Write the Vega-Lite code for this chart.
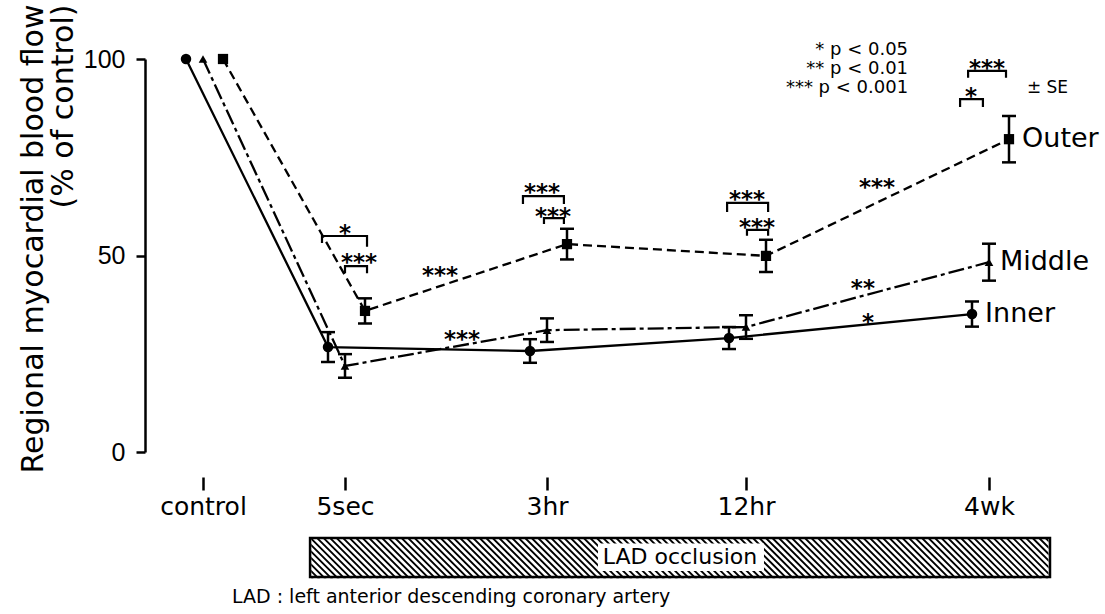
{
  "$schema": "https://vega.github.io/schema/vega-lite/v6.json",
  "width": 900,
  "height": 393,
  "autosize": {"type": "none"},
  "padding": {"left": 145, "top": 59, "right": 60, "bottom": 162},
  "background": "white",
  "config": {"view": {"stroke": null}, "font": "DejaVu Sans"},
  "datasets": {
    "pts": [
      {"s": "Inner", "t": 0, "time": "control", "v": 100, "se": 0},
      {"s": "Inner", "t": 1, "time": "5sec", "v": 26.7, "se": 3.8},
      {"s": "Inner", "t": 2, "time": "3hr", "v": 25.7, "se": 3.0},
      {"s": "Inner", "t": 3, "time": "12hr", "v": 29.0, "se": 2.8},
      {"s": "Inner", "t": 4, "time": "4wk", "v": 35.1, "se": 3.2},
      {"s": "Middle", "t": 0, "time": "control", "v": 100, "se": 0},
      {"s": "Middle", "t": 1, "time": "5sec", "v": 21.9, "se": 3.0},
      {"s": "Middle", "t": 2, "time": "3hr", "v": 31.0, "se": 3.0},
      {"s": "Middle", "t": 3, "time": "12hr", "v": 31.8, "se": 3.0},
      {"s": "Middle", "t": 4, "time": "4wk", "v": 48.3, "se": 4.7},
      {"s": "Outer", "t": 0, "time": "control", "v": 100, "se": 0},
      {"s": "Outer", "t": 1, "time": "5sec", "v": 35.9, "se": 3.2},
      {"s": "Outer", "t": 2, "time": "3hr", "v": 52.9, "se": 3.9},
      {"s": "Outer", "t": 3, "time": "12hr", "v": 49.9, "se": 4.1},
      {"s": "Outer", "t": 4, "time": "4wk", "v": 79.6, "se": 5.9}
    ],
    "brackets": [
      {"b": 1, "o": 1, "t": 0.838, "v": 53.2}, {"b": 1, "o": 2, "t": 0.838, "v": 54.96}, {"b": 1, "o": 3, "t": 1.109, "v": 54.96}, {"b": 1, "o": 4, "t": 1.109, "v": 52.2},
      {"b": 2, "o": 1, "t": 1.0, "v": 45.5}, {"b": 2, "o": 2, "t": 1.0, "v": 47.3}, {"b": 2, "o": 3, "t": 1.109, "v": 47.3}, {"b": 2, "o": 4, "t": 1.109, "v": 45.5},
      {"b": 3, "o": 1, "t": 1.881, "v": 63.1}, {"b": 3, "o": 2, "t": 1.881, "v": 65.1}, {"b": 3, "o": 3, "t": 2.085, "v": 65.1}, {"b": 3, "o": 4, "t": 2.085, "v": 63.1},
      {"b": 4, "o": 1, "t": 1.985, "v": 58.0}, {"b": 4, "o": 2, "t": 1.985, "v": 59.5}, {"b": 4, "o": 3, "t": 2.085, "v": 59.5}, {"b": 4, "o": 4, "t": 2.085, "v": 58.0},
      {"b": 5, "o": 1, "t": 2.905, "v": 61.1}, {"b": 5, "o": 2, "t": 2.905, "v": 63.4}, {"b": 5, "o": 3, "t": 3.091, "v": 63.4}, {"b": 5, "o": 4, "t": 3.091, "v": 61.1},
      {"b": 6, "o": 1, "t": 3.004, "v": 55.0}, {"b": 6, "o": 2, "t": 3.004, "v": 56.5}, {"b": 6, "o": 3, "t": 3.091, "v": 56.5}, {"b": 6, "o": 4, "t": 3.091, "v": 55.0},
      {"b": 7, "o": 1, "t": 3.914, "v": 95.2}, {"b": 7, "o": 2, "t": 3.914, "v": 97.0}, {"b": 7, "o": 3, "t": 4.07, "v": 97.0}, {"b": 7, "o": 4, "t": 4.07, "v": 95.2},
      {"b": 8, "o": 1, "t": 3.881, "v": 87.8}, {"b": 8, "o": 2, "t": 3.881, "v": 89.8}, {"b": 8, "o": 3, "t": 3.975, "v": 89.8}, {"b": 8, "o": 4, "t": 3.975, "v": 87.8}
    ],
    "stars": [
      {"t": 1.0, "v": 57.0, "txt": "*"},
      {"t": 1.069, "v": 49.6, "txt": "***"},
      {"t": 1.47, "v": 46.3, "txt": "***"},
      {"t": 1.579, "v": 30.0, "txt": "***"},
      {"t": 1.975, "v": 67.4, "txt": "***"},
      {"t": 2.03, "v": 61.3, "txt": "***"},
      {"t": 3.004, "v": 65.6, "txt": "***"},
      {"t": 3.045, "v": 58.5, "txt": "***"},
      {"t": 3.992, "v": 99.0, "txt": "***"},
      {"t": 3.926, "v": 91.9, "txt": "*"},
      {"t": 3.539, "v": 68.7, "txt": "***"},
      {"t": 3.481, "v": 43.0, "txt": "**"},
      {"t": 3.502, "v": 34.4, "txt": "*"}
    ],
    "notes": [
      {"t": 3.667, "v": 102.3, "txt": "* p < 0.05"},
      {"t": 3.667, "v": 97.5, "txt": "** p < 0.01"},
      {"t": 3.667, "v": 92.6, "txt": "*** p < 0.001"}
    ],
    "se": [{"t": 4.156, "v": 92.6, "txt": "± SE"}],
    "labels": [
      {"t": 4.136, "v": 79.6, "txt": "Outer"},
      {"t": 4.045, "v": 48.3, "txt": "Middle"},
      {"t": 3.984, "v": 35.1, "txt": "Inner"}
    ],
    "hatch": [{"t": 1.272, "v": -97.96, "t2": 3.881, "v2": 44.53}],
    "masks": [
      {"t": -0.092, "t2": 4.745, "v": -21.6, "v2": 96.0},
      {"t": -0.092, "t2": 4.745, "v": -32.1, "v2": -150.0},
      {"t": -0.092, "t2": 0.762, "v": -21.0, "v2": -32.5},
      {"t": 4.245, "t2": 4.745, "v": -21.0, "v2": -32.5}
    ],
    "bar": [{"t": 0.754, "t2": 4.251, "v": -21.9, "v2": -31.8}],
    "barbox": [{"t": 2.256, "t2": 3.074, "v": -23.3, "v2": -30.3}],
    "bartext": [{"t": 2.668, "v": -26.7, "txt": "LAD occlusion"}],
    "foot": [{"t": 0.204, "v": -36.9, "txt": "LAD : left anterior descending coronary artery"}]
  },
  "encoding": {
    "x": {
      "field": "t",
      "type": "quantitative",
      "scale": {"type": "linear", "domain": [0, 1, 2, 3, 4], "range": [58, 200, 402, 601, 844], "nice": false, "zero": false},
      "axis": {
        "title": null,
        "values": [0, 1, 2, 3, 4],
        "labelExpr": "['control','5sec','3hr','12hr','4wk'][datum.value]",
        "domain": false,
        "grid": false,
        "offset": 25,
        "ticks": true,
        "tickSize": 13,
        "tickWidth": 2.5,
        "tickColor": "black",
        "labelFont": "DejaVu Sans",
        "labelFontSize": 25,
        "labelColor": "black",
        "labelPadding": 4,
        "labelFlush": false,
        "labelOverlap": false,
        "zindex": 1
      }
    },
    "y": {
      "field": "v",
      "type": "quantitative",
      "scale": {"domain": [0, 100], "nice": false, "zero": false},
      "axis": {
        "title": ["Regional myocardial blood flow", "(% of control)"],
        "titleFont": "DejaVu Sans",
        "titleFontSize": 30,
        "titleFontWeight": "normal",
        "titleColor": "black",
        "titleAngle": -90,
        "titleAlign": "right",
        "titleBaseline": "top",
        "titleLineHeight": 30,
        "titleX": -127,
        "titleY": -55,
        "values": [0, 50, 100],
        "grid": false,
        "domain": true,
        "domainColor": "black",
        "domainWidth": 2.5,
        "tickSize": 9,
        "tickWidth": 2.5,
        "tickColor": "black",
        "labelFont": "Liberation Sans",
        "labelFontSize": 25,
        "labelColor": "black",
        "labelPadding": 11,
        "zindex": 1
      }
    }
  },
  "layer": [
    {
      "data": {"name": "hatch"},
      "mark": {"type": "rule", "color": "black", "strokeWidth": 570, "strokeDash": [1.9, 2.7], "strokeCap": "butt"},
      "encoding": {"x2": {"field": "t2"}, "y2": {"field": "v2"}}
    },
    {
      "data": {"name": "masks"},
      "mark": {"type": "rect", "fill": "white", "stroke": null},
      "encoding": {"x2": {"field": "t2"}, "y2": {"field": "v2"}}
    },
    {
      "data": {"name": "bar"},
      "mark": {"type": "rect", "fill": null, "stroke": "black", "strokeWidth": 2.5},
      "encoding": {"x2": {"field": "t2"}, "y2": {"field": "v2"}}
    },
    {
      "data": {"name": "barbox"},
      "mark": {"type": "rect", "fill": "white"},
      "encoding": {"x2": {"field": "t2"}, "y2": {"field": "v2"}}
    },
    {
      "data": {"name": "bartext"},
      "mark": {"type": "text", "font": "DejaVu Sans", "fontSize": 22, "align": "center", "baseline": "middle", "color": "black"},
      "encoding": {"text": {"field": "txt"}}
    },
    {
      "data": {"name": "foot"},
      "mark": {"type": "text", "font": "DejaVu Sans", "fontSize": 19, "align": "left", "baseline": "middle", "color": "black"},
      "encoding": {"text": {"field": "txt"}}
    },
    {
      "data": {"name": "pts"},
      "transform": [{"filter": "datum.s == 'Inner'"}],
      "mark": {"type": "line", "color": "black", "strokeWidth": 2.3, "xOffset": -17},
      "encoding": {"order": {"field": "t"}}
    },
    {
      "data": {"name": "pts"},
      "transform": [{"filter": "datum.s == 'Middle'"}],
      "mark": {"type": "line", "color": "black", "strokeWidth": 2.3, "strokeDash": [16, 4, 4, 4]},
      "encoding": {"order": {"field": "t"}}
    },
    {
      "data": {"name": "pts"},
      "transform": [{"filter": "datum.s == 'Outer'"}],
      "mark": {"type": "line", "color": "black", "strokeWidth": 2.3, "strokeDash": [9, 5], "xOffset": 20},
      "encoding": {"order": {"field": "t"}}
    },
    {
      "data": {"name": "pts"},
      "transform": [{"filter": "datum.s == 'Inner' && datum.se > 0"}],
      "mark": {"type": "errorbar", "orient": "vertical", "color": "black", "opacity": 1, "ticks": {"size": 14, "thickness": 2.5, "xOffset": -17, "color": "black", "opacity": 1}, "rule": {"strokeWidth": 2.5, "xOffset": -17, "color": "black", "opacity": 1}},
      "encoding": {"yError": {"field": "se"}}
    },
    {
      "data": {"name": "pts"},
      "transform": [{"filter": "datum.s == 'Middle' && datum.se > 0"}],
      "mark": {"type": "errorbar", "orient": "vertical", "color": "black", "opacity": 1, "ticks": {"size": 14, "thickness": 2.5, "color": "black", "opacity": 1}, "rule": {"strokeWidth": 2.5, "color": "black", "opacity": 1}},
      "encoding": {"yError": {"field": "se"}}
    },
    {
      "data": {"name": "pts"},
      "transform": [{"filter": "datum.s == 'Outer' && datum.se > 0"}],
      "mark": {"type": "errorbar", "orient": "vertical", "color": "black", "opacity": 1, "ticks": {"size": 14, "thickness": 2.5, "xOffset": 20, "color": "black", "opacity": 1}, "rule": {"strokeWidth": 2.5, "xOffset": 20, "color": "black", "opacity": 1}},
      "encoding": {"yError": {"field": "se"}}
    },
    {
      "data": {"name": "pts"},
      "transform": [{"filter": "datum.s == 'Inner'"}],
      "mark": {"type": "point", "shape": "circle", "filled": true, "color": "black", "opacity": 1, "size": 110, "xOffset": -17}
    },
    {
      "data": {"name": "pts"},
      "transform": [{"filter": "datum.s == 'Middle'"}],
      "mark": {"type": "point", "shape": "triangle-up", "filled": true, "color": "black", "opacity": 1, "size": 75}
    },
    {
      "data": {"name": "pts"},
      "transform": [{"filter": "datum.s == 'Outer'"}],
      "mark": {"type": "point", "shape": "square", "filled": true, "color": "black", "opacity": 1, "size": 105, "xOffset": 20}
    },
    {
      "data": {"name": "brackets"},
      "mark": {"type": "line", "color": "black", "strokeWidth": 2.2},
      "encoding": {"detail": {"field": "b"}, "order": {"field": "o"}}
    },
    {
      "data": {"name": "stars"},
      "mark": {"type": "text", "font": "DejaVu Sans", "fontWeight": "bold", "fontSize": 23, "align": "center", "baseline": "alphabetic", "dy": 13, "color": "black"},
      "encoding": {"text": {"field": "txt"}}
    },
    {
      "data": {"name": "notes"},
      "mark": {"type": "text", "font": "DejaVu Sans", "fontSize": 18, "align": "right", "baseline": "middle", "color": "black"},
      "encoding": {"text": {"field": "txt"}}
    },
    {
      "data": {"name": "se"},
      "mark": {"type": "text", "font": "DejaVu Sans", "fontSize": 17, "align": "left", "baseline": "middle", "color": "black"},
      "encoding": {"text": {"field": "txt"}}
    },
    {
      "data": {"name": "labels"},
      "mark": {"type": "text", "font": "DejaVu Sans", "fontSize": 27, "align": "left", "baseline": "middle", "color": "black"},
      "encoding": {"text": {"field": "txt"}}
    }
  ]
}
